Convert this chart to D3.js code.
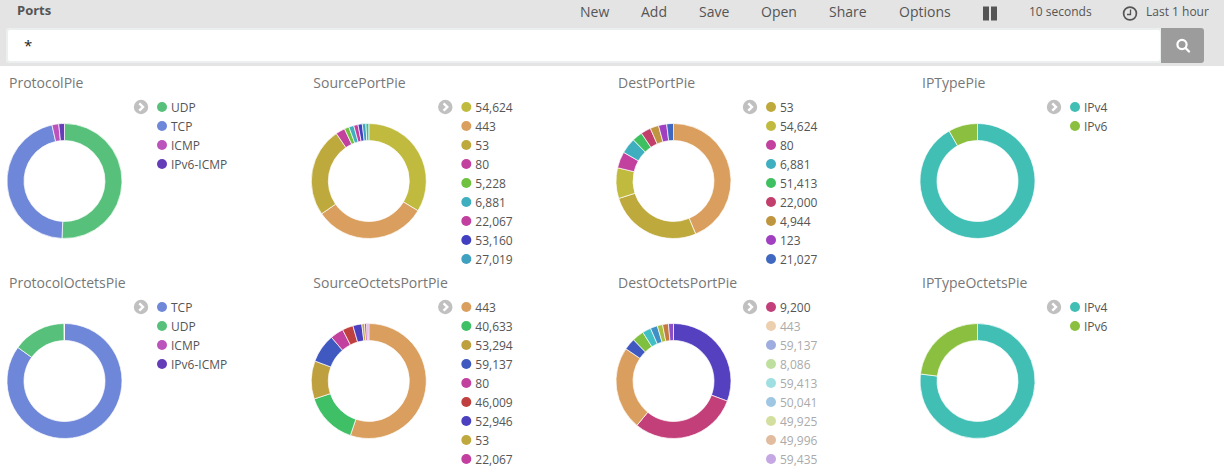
<!DOCTYPE html>
<html>
<head>
<meta charset="utf-8">
<style>
  html, body { margin: 0; padding: 0; background: #fff; overflow: hidden; }
  svg { display: block; font-family: "Open Sans", sans-serif; }
</style>
<script src="https://cdn.jsdelivr.net/npm/d3@7"></script>
</head>
<body>
<svg id="page" width="1224" height="474"></svg>
<script>
const protocolValues = [50.7, 45.8, 1.9, 1.6]
const protocolLabels = ['UDP', 'TCP', 'ICMP', 'IPv6-ICMP']

const sourcePortValues = [33.5, 31.5, 25, 2.6, 1.3, 1.4, 1.2, 1.2, 1, 0.8]
const sourcePortLabels = ['54,624', '443', '53', '80', '5,228', '6,881', '22,067', '53,160', '27,019']

// the legend is scrolled: its first row is the second slice
const destPortValues = [43.7, 26.4, 8.6, 4.6, 4.4, 2.9, 2.8, 2.4, 2.3, 1.9]
const destPortLabels = ['53', '54,624', '80', '6,881', '51,413', '22,000', '4,944', '123', '21,027']

const ipTypeValues = [91.8, 8.2]
const ipTypeLabels = ['IPv4', 'IPv6']

const protocolOctetsValues = [85, 15, 0.05, 0.03]
const protocolOctetsLabels = ['TCP', 'UDP', 'ICMP', 'IPv6-ICMP']

const sourceOctetsValues = [55.2, 14.75, 10.7, 8.1, 3.75, 3.05, 2.5, 0.75, 0.6, 0.35, 0.25]
const sourceOctetsLabels = ['443', '40,633', '53,294', '59,137', '80', '46,009', '52,946', '53', '22,067']

const destOctetsValues = [30.7, 30.3, 23.5, 3.3, 3.3, 2.4, 2, 1.5, 1.65, 1.4]
const destOctetsLabels = ['9,200', '443', '59,137', '8,086', '59,413', '50,041', '49,925', '49,996', '59,435']

const ipTypeOctetsValues = [76.95, 23.05]
const ipTypeOctetsLabels = ['IPv4', 'IPv6']

const navItems = ['New', 'Add', 'Save', 'Open', 'Share', 'Options']

// slice colours, one per slice
const protocolColors = ['#57c17b', '#6f87d8', '#bc52bc', '#663db8']
const sourcePortColors = ['#c0bb3f', '#da9f5e', '#bea93c', '#c2409e', '#6fc13f', '#3fafc0', '#c23fa0', '#4040c0', '#3fa0c0', '#3fc18f']
const destPortColors = ['#da9f5e', '#bea93c', '#c0bb3f', '#c2409e', '#3fafc0', '#3fc060', '#c23f6c', '#bf963f', '#a040c0', '#4068c0']
const ipTypeColors = ['#41bfb5', '#8abf3f']
const protocolOctetsColors = ['#6f87d8', '#57c17b', '#bc52bc', '#663db8']
const sourceOctetsColors = ['#da9f5e', '#3fc066', '#bfa03f', '#4059c0', '#c2409e', '#c04040', '#4a40c0', '#bfa93f', '#c23fa0', '#c04070', '#a040c0']
const destOctetsColors = ['#5540c0', '#c23f7a', '#da9f5e', '#4059c0', '#7fc040', '#40bfc4', '#4090c8', '#a8bf3f', '#c47a40', '#8a4fc8']

const panels = [
  { title: 'ProtocolPie', values: protocolValues, labels: protocolLabels, colors: protocolColors, col: 0, row: 0 },
  { title: 'SourcePortPie', values: sourcePortValues, labels: sourcePortLabels, colors: sourcePortColors, col: 1, row: 0 },
  { title: 'DestPortPie', values: destPortValues, labels: destPortLabels, colors: destPortColors, col: 2, row: 0, legendStart: 1 },
  { title: 'IPTypePie', values: ipTypeValues, labels: ipTypeLabels, colors: ipTypeColors, col: 3, row: 0 },
  { title: 'ProtocolOctetsPie', values: protocolOctetsValues, labels: protocolOctetsLabels, colors: protocolOctetsColors, col: 0, row: 1 },
  { title: 'SourceOctetsPortPie', values: sourceOctetsValues, labels: sourceOctetsLabels, colors: sourceOctetsColors, col: 1, row: 1 },
  { title: 'DestOctetsPortPie', values: destOctetsValues, labels: destOctetsLabels, colors: destOctetsColors, col: 2, row: 1, legendStart: 1, focused: 0 },
  { title: 'IPTypeOctetsPie', values: ipTypeOctetsValues, labels: ipTypeOctetsLabels, colors: ipTypeColors, col: 3, row: 1 }
]

const svg = d3.select('#page')

const panelX = d3.scaleOrdinal().domain([0, 1, 2, 3]).range([0, 304.3, 609, 913])
const panelY = d3.scaleOrdinal().domain([0, 1]).range([0, 200])

const RADIUS = 57.5
const INNER_RADIUS = 40.5
const ROW_HEIGHT = 19

/// ///////////////////////////////////////////////////////////////////
// TOOLBAR
/// ///////////////////////////////////////////////////////////////////

const navX = [580, 641, 699, 761, 829, 899]

function drawToolbar () {
  svg.append('rect').attr('width', 1224).attr('height', 66).attr('fill', '#e4e4e4')

  svg.append('text').attr('x', 17).attr('y', 15).text('Ports')
    .attr('font-size', 13).attr('font-weight', 700).attr('fill', '#555')

  svg.selectAll('text.nav').data(navItems).join('text')
    .attr('class', 'nav')
    .attr('x', (d, i) => navX[i])
    .attr('y', 17)
    .attr('font-size', 14)
    .attr('fill', '#555')
    .text(d => d)

  // pause
  svg.append('rect').attr('x', 983).attr('y', 6.5).attr('width', 6).attr('height', 14).attr('fill', '#555')
  svg.append('rect').attr('x', 991).attr('y', 6.5).attr('width', 6).attr('height', 14).attr('fill', '#555')

  svg.append('text').attr('x', 1029).attr('y', 16).text('10 seconds')
    .attr('font-size', 12).attr('fill', '#555')

  // clock
  svg.append('circle').attr('cx', 1130).attr('cy', 13.5).attr('r', 6.4)
    .attr('fill', 'none').attr('stroke', '#555').attr('stroke-width', 1.7)
  svg.append('path').attr('d', 'M1130.5 9.5 V14.5 H1127')
    .attr('fill', 'none').attr('stroke', '#555').attr('stroke-width', 1.3)

  svg.append('text').attr('x', 1146).attr('y', 16).text('Last 1 hour')
    .attr('font-size', 12).attr('fill', '#555')

  // query box
  svg.append('rect').attr('x', 6).attr('y', 28).attr('width', 1156).attr('height', 35).attr('rx', 3).attr('fill', '#ecefef')
  svg.append('rect').attr('x', 8).attr('y', 30).attr('width', 1152).attr('height', 31).attr('rx', 2).attr('fill', '#fff')
  svg.append('text').attr('x', 24).attr('y', 51).text('*')
    .attr('font-size', 15).attr('fill', '#222')

  // search button
  svg.append('path').attr('d', 'M1161 28 H1201 a3 3 0 0 1 3 3 V60 a3 3 0 0 1 -3 3 H1161 Z').attr('fill', '#9c9c9c')
  svg.append('circle').attr('cx', 1182).attr('cy', 44.5).attr('r', 4.6)
    .attr('fill', 'none').attr('stroke', '#fff').attr('stroke-width', 2.2)
  svg.append('line').attr('x1', 1185.5).attr('y1', 48).attr('x2', 1189).attr('y2', 51.5)
    .attr('stroke', '#fff').attr('stroke-width', 2.4).attr('stroke-linecap', 'round')
}

/// ///////////////////////////////////////////////////////////////////
// PANELS
/// ///////////////////////////////////////////////////////////////////

const pie = d3.pie().sort(null)
const arc = d3.arc().innerRadius(INNER_RADIUS).outerRadius(RADIUS)

function drawPanel (panel) {
  const g = svg.append('g')
    .attr('transform', `translate(${panelX(panel.col)},${panelY(panel.row)})`)

  const color = d3.scaleOrdinal().domain(d3.range(panel.colors.length)).range(panel.colors)

  g.append('text').attr('x', 9).attr('y', 88).text(panel.title)
    .attr('font-size', 14).attr('fill', '#777')

  g.append('g').attr('transform', 'translate(64.5,181)')
    .selectAll('path')
    .data(pie(panel.values))
    .join('path')
    .attr('d', arc)
    .attr('fill', (d, i) => color(i))
    .attr('stroke', '#fff')
    .attr('stroke-width', 0.7)

  // legend toggle
  g.append('circle').attr('cx', 141).attr('cy', 107).attr('r', 7.2).attr('fill', '#c0c0c0')
  g.append('path').attr('d', 'M139.3 103.3 L143 107 L139.3 110.7')
    .attr('fill', 'none').attr('stroke', '#fff').attr('stroke-width', 2.4)

  const start = panel.legendStart || 0
  const rows = g.selectAll('g.legend-row')
    .data(panel.labels)
    .join('g')
    .attr('class', 'legend-row')
    .attr('transform', (d, i) => `translate(162,${107 + i * ROW_HEIGHT})`)

  const faded = i => panel.focused !== undefined && panel.focused !== i

  rows.append('circle')
    .attr('r', 5)
    .attr('fill', (d, i) => color(i + start))
    .attr('opacity', (d, i) => faded(i) ? 0.5 : 1)

  rows.append('text')
    .attr('x', 9)
    .attr('y', 4.5)
    .attr('font-size', 12)
    .attr('fill', (d, i) => faded(i) ? '#aaa' : '#555')
    .text(d => d)
}

drawToolbar()
panels.forEach(drawPanel)
</script>
</body>
</html>
